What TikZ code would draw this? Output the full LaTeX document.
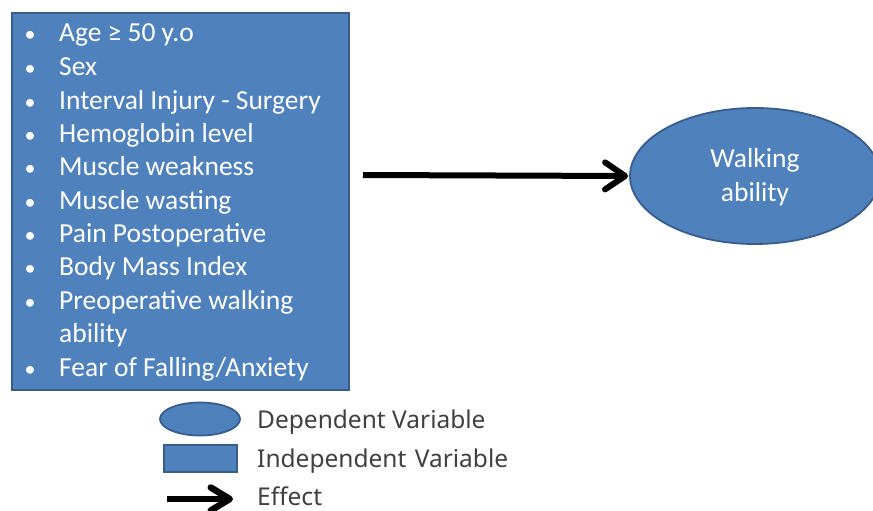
\documentclass[tikz,border=0pt]{standalone}
\usepackage{fontspec}
\setmainfont{Carlito}
\newfontfamily\legfont{Noto Sans}
\usetikzlibrary{arrows.meta,shapes.geometric}
\definecolor{boxfill}{HTML}{4F81BD}
\definecolor{boxline}{HTML}{385D8A}
\definecolor{legtext}{HTML}{404040}
\tikzset{
  varbox/.style={draw=boxline, line width=1.8pt, fill=boxfill, inner sep=0pt},
  itemtext/.style={anchor=base west, text=white, font=\fontsize{27.5}{32}\selectfont, inner sep=0pt},
  bul/.style={anchor=base, text=white, font=\fontsize{22}{26}\selectfont, inner sep=0pt},
  legtxt/.style={anchor=base west, text=legtext, font=\legfont\fontsize{24.5}{29}\selectfont, inner sep=0pt},
  effect/.style={line width=6pt, -{Straight Barb[length=20pt,width=27pt,line width=6pt,round]}},
  legeffect/.style={line width=6.5pt, -{Straight Barb[length=19pt,width=23pt,line width=6.5pt,round]}},
}
\begin{document}
\begin{tikzpicture}[x=1pt,y=-1pt]
\useasboundingbox (0,0) rectangle (873,511);
\clip (0,0) rectangle (873,511);
\fill[white] (0,0) rectangle (873,511);
% independent variables box
\node[varbox, minimum width=337pt, minimum height=377pt, anchor=north west] (iv) at (11,12) {};
\foreach \y/\t [count=\i] in {42/{Age ≥ 50 y.o}, 75/Sex, 109/{Interval Injury - Surgery}, 142/Hemoglobin level, 175/Muscle weakness, 209/Muscle wasting, 242/Pain Postoperative, 275/Body Mass Index, 309/Preoperative walking, 376/{Fear of Falling/Anxiety}}{
  \node[bul] (b\i) at (30,\y) {•};
  \node[itemtext] (t\i) at (59,\y) {\t};
}
\node[itemtext] (t9b) at (59,342) {ability};
% dependent variable
\node[varbox, ellipse, minimum width=250pt, minimum height=136pt] (dv) at (755,176) {};
\node[itemtext, anchor=base] (w1) at (755,167) {Walking};
\node[itemtext, anchor=base] (w2) at (755,201) {ability};
% effect arrow
\coordinate (as) at (363,175);
\draw[effect] (as) -- ([xshift=-1pt]dv.west);
% legend
\node[varbox, ellipse, minimum width=80pt, minimum height=33pt] (lell) at (200,419) {};
\node[varbox, minimum width=73pt, minimum height=27pt] (lrect) at (200.5,458.5) {};
\coordinate (la) at (167,499);
\coordinate (lb) at (233,499);
\draw[legeffect] (la) -- (lb);
\node[legtxt] (l1) at (257,428) {Dependent Variable};
\node[legtxt] (l2) at (257,467) {Independent\hspace{2pt} Variable};
\node[legtxt] (l3) at (257,505) {Effect};
\end{tikzpicture}
\end{document}
